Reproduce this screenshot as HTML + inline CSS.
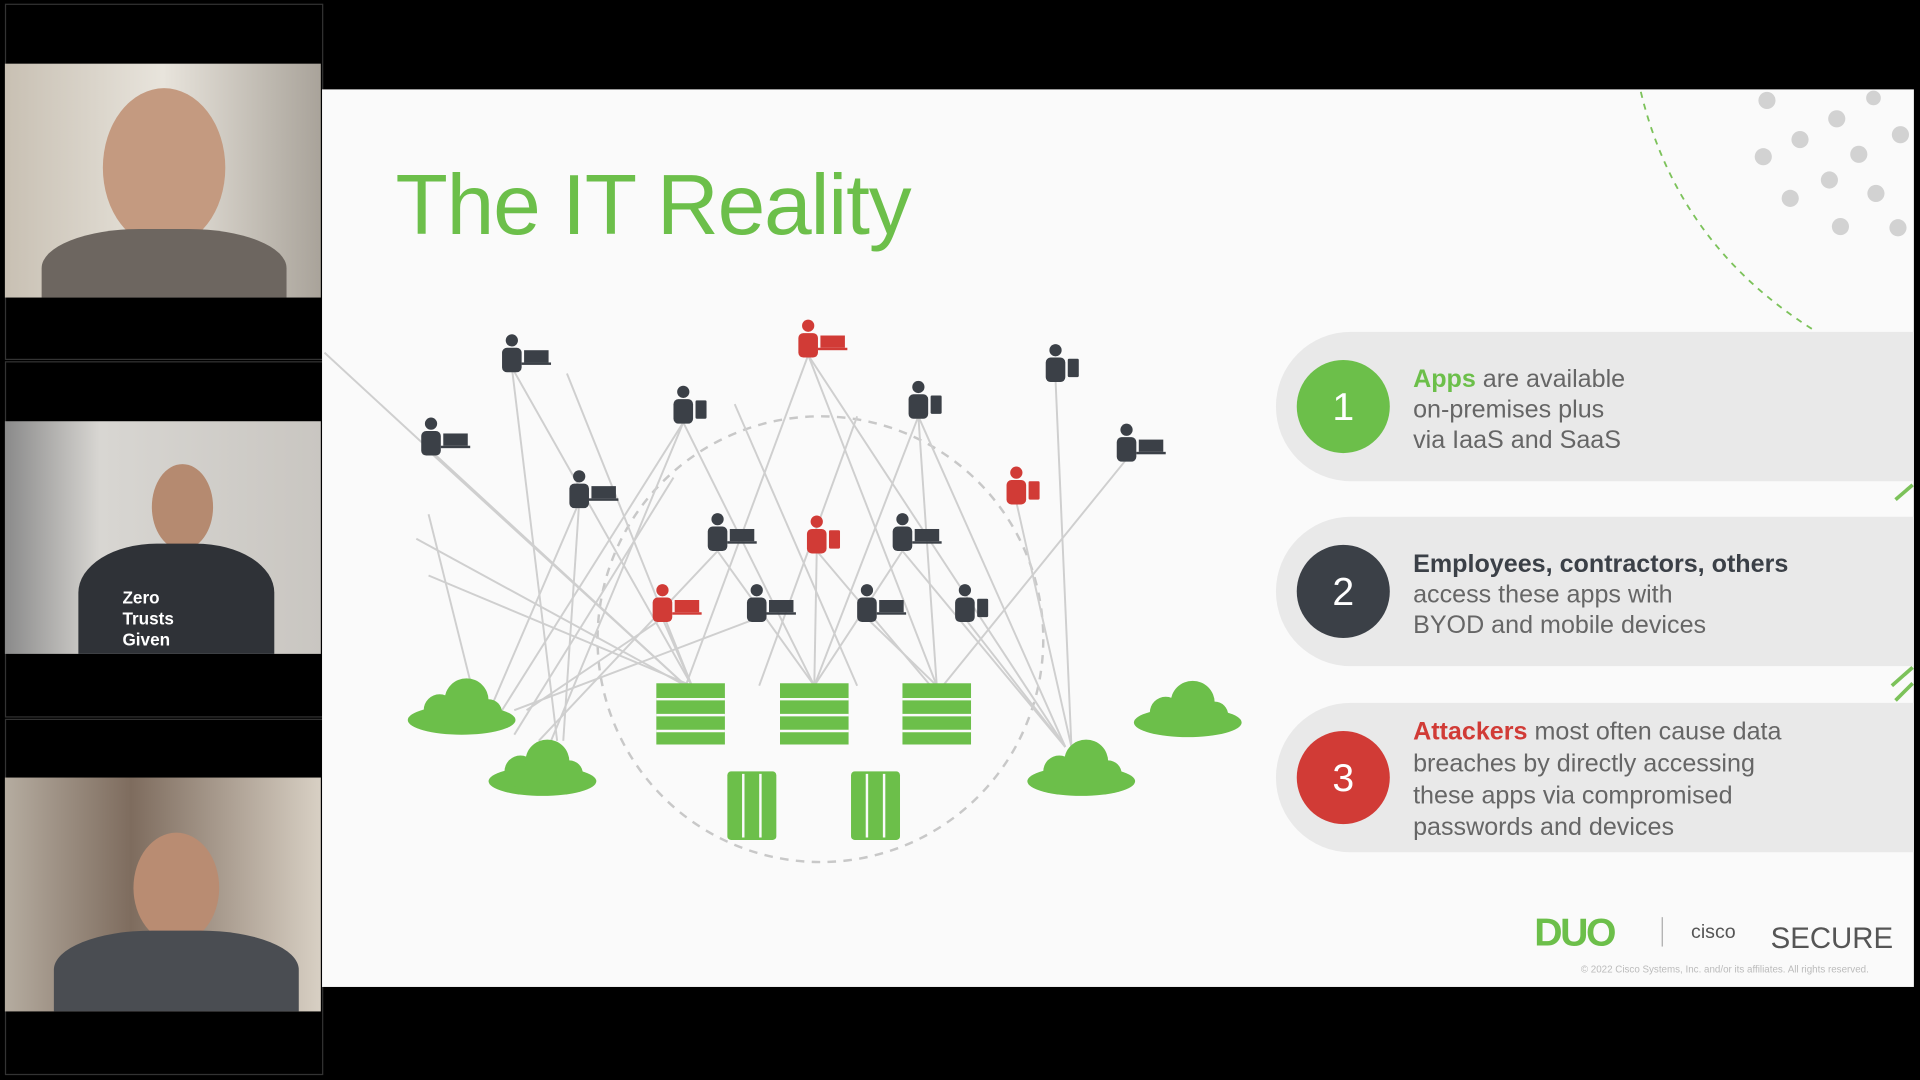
<!DOCTYPE html>
<html><head><meta charset="utf-8"><style>
html,body{margin:0;padding:0;background:#000;width:1920px;height:1080px;overflow:hidden}
#w{position:absolute;left:0;top:0;width:1568px;height:882px;transform:scale(1.2245);transform-origin:0 0;font-family:"Liberation Sans",Arial,sans-serif}
.tile{position:absolute;left:4px;width:258px;border:1px solid #333;background:#000}
.vid{position:absolute;left:4px;width:258px;overflow:hidden}
#slide{position:absolute;left:263px;top:73px;width:1300px;height:733px;background:#fafafa;overflow:hidden}
.pill{position:absolute;left:779px;width:560px;height:122px;border-radius:61px 0 0 61px;background:#e9e9e9}
.circ{position:absolute;left:17px;top:23px;width:76px;height:76px;border-radius:50%;color:#fff;font-size:32px;text-align:center;line-height:76px}
.txt{position:absolute;left:112px;top:26px;font-size:20.5px;line-height:25px;color:#666}
</style></head><body><div id="w">
<div class="tile" style="top:3px;height:289px"></div>
<div class="tile" style="top:295px;height:289px"></div>
<div class="tile" style="top:587px;height:289px"></div>
<div class="vid" style="top:52px;height:191px;background:linear-gradient(90deg,#c8c0b3,#e8e4dc 50%,#a9a39a)">
 <div style="position:absolute;left:80px;top:20px;width:100px;height:130px;border-radius:50%;background:#c49a80"></div>
 <div style="position:absolute;left:30px;top:135px;width:200px;height:80px;border-radius:40% 40% 0 0;background:#6d6660"></div>
</div>
<div class="vid" style="top:344px;height:190px;background:linear-gradient(90deg,#8a8a8a,#d8d6d2 30%,#c9c6c1)">
 <div style="position:absolute;left:120px;top:35px;width:50px;height:70px;border-radius:50%;background:#b58a70"></div>
 <div style="position:absolute;left:60px;top:100px;width:160px;height:100px;border-radius:40% 40% 0 0;background:#2f3237"></div>
 <div style="position:absolute;left:96px;top:136px;color:#fff;font-weight:bold;font-size:14px;line-height:17px">Zero<br>Trusts<br>Given</div>
</div>
<div class="vid" style="top:635px;height:191px;background:linear-gradient(90deg,#b5aca0,#7e6c5e 40%,#d8d0c4)">
 <div style="position:absolute;left:105px;top:45px;width:70px;height:90px;border-radius:50%;background:#b98c72"></div>
 <div style="position:absolute;left:40px;top:125px;width:200px;height:80px;border-radius:40% 40% 0 0;background:#4a4d52"></div>
</div>
<div id="slide">
<div style="position:absolute;left:60px;top:54px;font-size:70px;color:#6cbf4a;letter-spacing:-1px">The IT Reality</div>
<svg width="1300" height="733" style="position:absolute;left:0;top:0">
<defs>
<g id="cl" fill="#6cbf4a"><ellipse cx="0" cy="10" rx="44" ry="12"/><circle cx="-18" cy="2" r="13"/><circle cx="4" cy="-6" r="18"/><circle cx="22" cy="4" r="11"/></g>
<g id="pd"><circle cx="0" cy="-12" r="5"/><rect x="-8" y="-6" width="16" height="20" rx="4"/><rect x="10" y="-4" width="20" height="10"/><rect x="8" y="6" width="24" height="2"/></g>
<g id="pp"><circle cx="0" cy="-12" r="5"/><rect x="-8" y="-6" width="16" height="20" rx="4"/><rect x="10" y="-5" width="9" height="15" rx="1"/></g>
</defs>
<g transform="translate(-263,-73)">
<path d="M1340,75 Q1370,200 1482,270" fill="none" stroke="#7cc25a" stroke-width="1.5" stroke-dasharray="5,5"/>
<g fill="#d2d2d2"><circle cx="1443" cy="82" r="7"/><circle cx="1500" cy="97" r="7"/><circle cx="1530" cy="80" r="6"/><circle cx="1470" cy="114" r="7"/><circle cx="1440" cy="128" r="7"/><circle cx="1518" cy="126" r="7"/><circle cx="1552" cy="110" r="7"/><circle cx="1494" cy="147" r="7"/><circle cx="1462" cy="162" r="7"/><circle cx="1532" cy="158" r="7"/><circle cx="1503" cy="185" r="7"/><circle cx="1550" cy="186" r="7"/></g>
<path d="M1548,408 L1562,396 M1545,560 L1562,545 M1548,572 L1562,558" stroke="#7cc25a" stroke-width="3"/>
<circle cx="670" cy="522" r="182" fill="none" stroke="#c8c8c8" stroke-width="2" stroke-dasharray="7,6"/>
<g stroke="#cfcfcf" stroke-width="1.6">
<line x1="265" y1="288" x2="560" y2="560"/><line x1="418" y1="300" x2="455" y2="605"/><line x1="418" y1="300" x2="565" y2="560"/><line x1="350" y1="420" x2="385" y2="560"/>
<line x1="352" y1="370" x2="560" y2="560"/><line x1="340" y1="440" x2="560" y2="560"/><line x1="350" y1="470" x2="565" y2="560"/>
<line x1="558" y1="345" x2="410" y2="580"/><line x1="558" y1="345" x2="450" y2="605"/><line x1="558" y1="345" x2="665" y2="560"/>
<line x1="473" y1="410" x2="400" y2="580"/><line x1="473" y1="410" x2="460" y2="605"/><line x1="463" y1="305" x2="565" y2="560"/>
<line x1="660" y1="290" x2="765" y2="560"/><line x1="660" y1="290" x2="560" y2="560"/><line x1="660" y1="290" x2="870" y2="610"/>
<line x1="750" y1="340" x2="665" y2="560"/><line x1="750" y1="340" x2="870" y2="610"/><line x1="750" y1="340" x2="765" y2="560"/>
<line x1="862" y1="310" x2="875" y2="610"/><line x1="920" y1="375" x2="770" y2="560"/><line x1="830" y1="410" x2="875" y2="610"/>
<line x1="586" y1="450" x2="665" y2="560"/><line x1="586" y1="450" x2="440" y2="605"/><line x1="737" y1="450" x2="870" y2="610"/>
<line x1="737" y1="450" x2="665" y2="560"/><line x1="667" y1="450" x2="665" y2="560"/><line x1="667" y1="450" x2="760" y2="560"/>
<line x1="618" y1="505" x2="420" y2="580"/><line x1="708" y1="505" x2="765" y2="560"/><line x1="788" y1="505" x2="870" y2="610"/>
<line x1="541" y1="505" x2="565" y2="560"/><line x1="541" y1="505" x2="430" y2="580"/><line x1="550" y1="390" x2="420" y2="600"/>
<line x1="600" y1="330" x2="700" y2="560"/><line x1="700" y1="340" x2="620" y2="560"/>
</g>
<use href="#cl" x="377" y="578"/><use href="#cl" x="443" y="628"/><use href="#cl" x="970" y="580"/><use href="#cl" x="883" y="628"/>
<g fill="#6cbf4a">
<rect x="536" y="558" width="56" height="50"/><rect x="637" y="558" width="56" height="50"/><rect x="737" y="558" width="56" height="50"/>
<rect x="594" y="630" width="40" height="56" rx="3"/><rect x="695" y="630" width="40" height="56" rx="3"/>
</g>
<g stroke="#fafafa" stroke-width="2">
<line x1="536" y1="571" x2="592" y2="571"/><line x1="536" y1="584" x2="592" y2="584"/><line x1="536" y1="597" x2="592" y2="597"/>
<line x1="637" y1="571" x2="693" y2="571"/><line x1="637" y1="584" x2="693" y2="584"/><line x1="637" y1="597" x2="693" y2="597"/>
<line x1="737" y1="571" x2="793" y2="571"/><line x1="737" y1="584" x2="793" y2="584"/><line x1="737" y1="597" x2="793" y2="597"/>
<line x1="607" y1="632" x2="607" y2="684"/><line x1="621" y1="632" x2="621" y2="684"/><line x1="708" y1="632" x2="708" y2="684"/><line x1="722" y1="632" x2="722" y2="684"/>
</g>
<g fill="#3b4047">
<use href="#pd" x="418" y="290"/><use href="#pd" x="352" y="358"/><use href="#pp" x="558" y="332"/><use href="#pp" x="750" y="328"/><use href="#pp" x="862" y="298"/><use href="#pd" x="920" y="363"/>
<use href="#pd" x="586" y="436"/><use href="#pd" x="737" y="436"/><use href="#pd" x="618" y="494"/><use href="#pd" x="708" y="494"/><use href="#pp" x="788" y="494"/>
<use href="#pd" x="473" y="401"/>
</g>
<g fill="#d13b36"><use href="#pd" x="660" y="278"/><use href="#pp" x="830" y="398"/><use href="#pp" x="667" y="438"/><use href="#pd" x="541" y="494"/></g>
</g></svg>
<div class="pill" style="top:198px"><div class="circ" style="background:#6cbf4a">1</div><div class="txt"><b style="color:#6cbf4a">Apps</b> are available<br>on-premises plus<br>via IaaS and SaaS</div></div>
<div class="pill" style="top:349px"><div class="circ" style="background:#3b4047">2</div><div class="txt"><b style="color:#3b4047">Employees, contractors, others</b><br>access these apps with<br>BYOD and mobile devices</div></div>
<div class="pill" style="top:501px"><div class="circ" style="background:#d13b36">3</div><div class="txt" style="top:11px;line-height:26px"><b style="color:#d13b36">Attackers</b> most often cause data<br>breaches by directly accessing<br>these apps via compromised<br>passwords and devices</div></div>
<div style="position:absolute;left:990px;top:670px;font-size:32px;font-weight:bold;color:#6cbf4a;letter-spacing:-2px">DUO</div>
<div style="position:absolute;left:1094px;top:676px;width:1px;height:24px;background:#aaa"></div>
<div style="position:absolute;left:1118px;top:680px;font-size:16px;color:#555">cisco</div>
<div style="position:absolute;left:1183px;top:680px;font-size:24px;color:#555">SECURE</div>
<div style="position:absolute;left:1028px;top:714px;font-size:8px;color:#bbb">© 2022 Cisco Systems, Inc. and/or its affiliates. All rights reserved.</div>
</div>
</div></body></html>
